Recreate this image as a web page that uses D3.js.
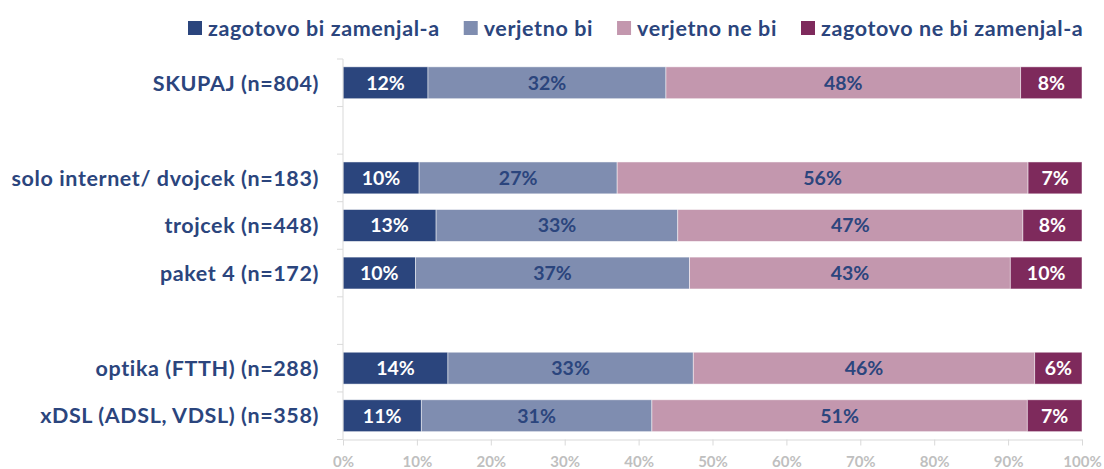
<!DOCTYPE html>
<html>
<head>
<meta charset="utf-8">
<script src="https://cdn.jsdelivr.net/npm/d3@7"></script>
<style>
  body { margin: 0; background: #fff; }
  svg { display: block; }
  text { font-family: Lato, "Open Sans", sans-serif; font-weight: bold; }
</style>
</head>
<body>
<svg width="1104" height="469"></svg>
<script>
// kategorije (prazni nizi so presledki med skupinami)
const categories = ["SKUPAJ (n=804)", "", "solo internet/ dvojcek (n=183)", "trojcek (n=448)", "paket 4 (n=172)", " ", "optika (FTTH) (n=288)", "xDSL (ADSL, VDSL) (n=358)"];

const series = ["zagotovo bi zamenjal-a", "verjetno bi", "verjetno ne bi", "zagotovo ne bi zamenjal-a"];

// deleži v % po kategorijah
const zagotovoBi   = [11.5, null, 10.3, 12.6, 9.8, null, 14.2, 10.6];
const verjetnoBi   = [32.2, null, 26.8, 32.7, 37.1, null, 33.2, 31.2];
const verjetnoNeBi = [48.0, null, 55.6, 46.7, 43.4, null, 46.2, 50.8];
const zagotovoNeBi = [8.3, null, 7.3, 8.0, 9.7, null, 6.4, 7.4];

const xTicks = [0, 10, 20, 30, 40, 50, 60, 70, 80, 90, 100];

const colors = ["#2b457d", "#7f8db0", "#c397ae", "#7e2a5c"];
const labelColors = ["#ffffff", "#2b457d", "#2b457d", "#ffffff"];

const svg = d3.select("svg");
const margin = { top: 59, right: 22, bottom: 30, left: 343 };
const axisY = 439.5;

const rows = categories.map((c, i) => ({
    name: c,
    values: [zagotovoBi[i], verjetnoBi[i], verjetnoNeBi[i], zagotovoNeBi[i]]
}));

const x = d3.scaleLinear().domain([0, 100]).range([margin.left, 1082]);
const y = d3.scaleBand().domain(categories).range([margin.top, axisY]).paddingInner(0.33).paddingOuter(0.165);

// segmenti
const segs = [];
rows.forEach(r => {
    if (r.values[0] == null) return;
    let acc = 0;
    r.values.forEach((v, k) => {
        segs.push({ cat: r.name, k: k, x0: acc, x1: acc + v, v: v });
        acc += v;
    });
});

svg.append("g").selectAll("rect")
    .data(segs)
    .enter().append("rect")
    .attr("x", d => x(d.x0))
    .attr("y", d => y(d.cat))
    .attr("width", d => x(d.x1) - x(d.x0))
    .attr("height", y.bandwidth())
    .attr("fill", d => colors[d.k])
    .attr("stroke", "#ffffff")
    .attr("stroke-opacity", 0.6)
    .attr("stroke-width", 0.8);

svg.append("g").selectAll("text")
    .data(segs)
    .enter().append("text")
    .attr("x", d => (x(d.x0) + x(d.x1)) / 2)
    .attr("y", d => y(d.cat) + y.bandwidth() / 2)
    .attr("dy", "0.36em")
    .attr("text-anchor", "middle")
    .attr("font-size", 19.5)
    .attr("fill", d => labelColors[d.k])
    .text(d => Math.round(d.v) + "%");

// os y
const yAxis = svg.append("g")
    .attr("transform", `translate(${margin.left},0)`);
yAxis.append("line")
    .attr("x1", 0).attr("x2", 0)
    .attr("y1", margin.top).attr("y2", axisY)
    .attr("stroke", "#d9d9d9");
const yEdges = categories.map(c => y(c) - y.step() * y.paddingInner() / 2).concat([axisY]);
yAxis.selectAll(".tk")
    .data(yEdges)
    .enter().append("line")
    .attr("x1", -6).attr("x2", 0)
    .attr("y1", d => d).attr("y2", d => d)
    .attr("stroke", "#d9d9d9");
yAxis.selectAll(".lab")
    .data(categories.filter(c => c.trim() !== ""))
    .enter().append("text")
    .attr("x", -24)
    .attr("y", d => y(d) + y.bandwidth() / 2)
    .attr("dy", "0.36em")
    .attr("text-anchor", "end")
    .attr("font-size", 21.5)
    .attr("letter-spacing", 0.6)
    .attr("fill", "#2b457d")
    .text(d => d);

// os x
const xAxis = svg.append("g")
    .attr("transform", `translate(0,${axisY})`)
    .call(d3.axisBottom(x).tickValues(xTicks).tickSize(6).tickSizeOuter(0).tickFormat(d => d + "%"));
xAxis.select(".domain").attr("stroke", "#d9d9d9");
xAxis.selectAll(".tick line").attr("stroke", "#d9d9d9");
xAxis.selectAll(".tick text")
    .attr("fill", "#bfbfbf")
    .attr("font-size", 15)
    .attr("y", 17)
    .style("font-family", "Lato, sans-serif")
    .style("font-weight", "bold");

// legenda
const legend = svg.append("g").attr("transform", "translate(188,21)");
let lx = 0;
series.forEach((s, k) => {
    const g = legend.append("g").attr("transform", `translate(${lx},0)`);
    g.append("rect").attr("width", 14).attr("height", 14).attr("fill", colors[k]);
    const t = g.append("text")
        .attr("x", 20).attr("y", 7).attr("dy", "0.36em")
        .attr("font-size", 21.5)
        .attr("letter-spacing", 0.6)
        .attr("fill", "#2b457d")
        .text(s);
    lx += 20 + t.node().getComputedTextLength() + 24;
});
</script>
</body>
</html>
